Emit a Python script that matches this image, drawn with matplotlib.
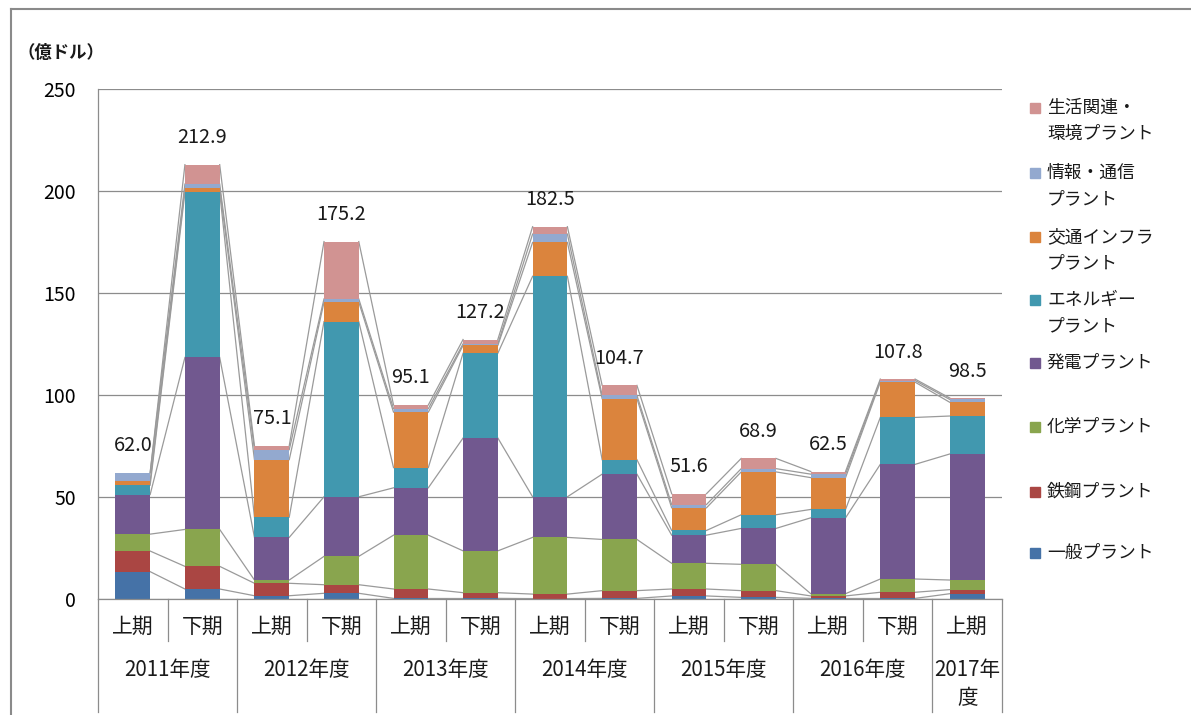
import matplotlib
matplotlib.use("Agg")
import matplotlib.pyplot as plt
import matplotlib.transforms as mtransforms
from matplotlib.lines import Line2D
from matplotlib.patches import Rectangle
import numpy as np

plt.rcParams["font.family"] = ["Noto Sans CJK JP", "DejaVu Sans"]

# data (億ドル), bottom series first
halves = ["上期", "下期"] * 6 + ["上期"]
years = ["2011年度", "2012年度", "2013年度", "2014年度", "2015年度", "2016年度"]
last_year = ["2017年", "度"]

series_names = ["一般プラント", "鉄鋼プラント", "化学プラント", "発電プラント",
                "エネルギー\nプラント", "交通インフラ\nプラント", "情報・通信\nプラント",
                "生活関連・\n環境プラント"]
ippan = [13.4, 4.9, 1.6, 2.8, 0.3, 0.3, 0.2, 0.3, 1.5, 0.8, 0.3, 0.3, 2.6]
tekko = [10.1, 11.1, 6.1, 4.2, 4.6, 2.8, 2.2, 3.8, 3.4, 3.3, 1.2, 3.0, 2.0]
kagaku = [8.3, 18.1, 1.6, 13.9, 26.4, 20.5, 27.8, 25.1, 12.6, 12.9, 1.1, 6.5, 4.7]
hatsuden = [19.4, 84.3, 20.9, 29.2, 23.2, 55.3, 19.9, 32.0, 13.8, 17.6, 37.2, 56.2, 61.8]
energy = [4.6, 80.9, 9.9, 85.9, 9.9, 41.6, 108.1, 7.1, 2.3, 6.7, 4.1, 23.0, 18.6]
kotsu = [1.9, 2.1, 28.2, 9.5, 27.2, 3.8, 16.6, 29.9, 11.1, 21.0, 15.6, 17.3, 6.7]
joho = [4.1, 2.0, 4.9, 1.6, 1.7, 0.8, 4.1, 1.6, 1.6, 1.6, 1.7, 0.8, 1.4]
seikatsu = [0.2, 9.5, 1.9, 28.1, 1.8, 2.1, 3.6, 4.9, 5.3, 5.0, 1.3, 0.7, 0.7]
totals = [62.0, 212.9, 75.1, 175.2, 95.1, 127.2, 182.5, 104.7, 51.6, 68.9, 62.5, 107.8, 98.5]

colors = ["#4572A7", "#AA4643", "#89A54E", "#71588F",
          "#4198AF", "#DB843D", "#93A9CF", "#D19392"]

W, H = 1191, 715
fig = plt.figure(figsize=(W / 100, H / 100), dpi=100)


def fx(px):
    return px / W


def fy(py):
    return 1 - py / H


ax = fig.add_axes([fx(98), fy(599), fx(1002) - fx(98), fy(89) - fy(599)])

data = [ippan, tekko, kagaku, hatsuden, energy, kotsu, joho, seikatsu]
x = np.arange(len(halves))
bw = 0.5
bottom = np.zeros(len(x))
tops = []
for vals, c in zip(data, colors):
    ax.bar(x, vals, bw, bottom=bottom, color=c, linewidth=0, zorder=3)
    bottom = bottom + np.array(vals)
    tops.append(bottom.copy())

# series lines between adjacent bars
for top in tops:
    for i in range(len(x) - 1):
        ax.plot([x[i] + bw / 2, x[i + 1] - bw / 2], [top[i], top[i + 1]],
                color="#9a9a9a", lw=0.9, zorder=2)

for xi, t in zip(x, totals):
    ax.annotate(f"{t:.1f}", (xi, t), xytext=(0, 27), textcoords="offset pixels",
                ha="center", va="center", fontsize=14.3, color="#1a1a1a")

ax.set_xlim(-0.5, len(x) - 0.5)
ax.set_ylim(0, 250)
ax.set_yticks(range(0, 251, 50))
ax.yaxis.grid(True, color="#8c8c8c", lw=0.9, zorder=0)
ax.tick_params(axis="y", length=0, labelsize=14, pad=16)
ax.tick_params(axis="x", length=0, labelbottom=False)
for s in ["top", "right", "bottom"]:
    ax.spines[s].set_visible(False)
ax.spines["left"].set_color("#8c8c8c")
ax.spines["left"].set_linewidth(0.9)
ax.set_xticks([])

# category axis (two levels) drawn below the plot
trans = mtransforms.blended_transform_factory(ax.transData, ax.transAxes)
y_short = -(641 - 599) / 511
y_long = -(712 - 599) / 511
ax.plot([-0.5, len(x) - 0.5], [0, 0], color="#8c8c8c", lw=0.9,
        transform=trans, clip_on=False, zorder=4)
for b in range(len(x) + 1):
    xb = b - 0.5
    yb = y_long if b % 2 == 0 or b == len(x) else y_short
    ax.plot([xb, xb], [0, yb], color="#8c8c8c", lw=0.9,
            transform=trans, clip_on=False)
for xi, lab in zip(x, halves):
    ax.text(xi, -(627 - 599) / 511, lab, transform=trans, ha="center",
            va="center", fontsize=15, color="#1a1a1a")
for k, lab in enumerate(years):
    ax.text(2 * k + 0.5, -(670 - 599) / 511, lab, transform=trans,
            ha="center", va="center", fontsize=14.8, color="#1a1a1a")
ax.text(12, -(670 - 599) / 511, last_year[0], transform=trans,
        ha="center", va="center", fontsize=14.8, color="#1a1a1a")
ax.text(12, -(698 - 599) / 511, last_year[1], transform=trans,
        ha="center", va="center", fontsize=14.8, color="#1a1a1a")

fig.text(fx(61), fy(53), "（億ドル）", ha="center", va="center",
         fontsize=12.5, fontweight="bold", color="#1a1a1a")

# legend, top entry first
legend_y = [108, 173, 237, 300, 363, 427, 492, 553]
for name, c, ly in zip(series_names[::-1], colors[::-1], legend_y):
    fig.patches.append(Rectangle((fx(1030), fy(ly + 5)), fx(10), 10 / H,
                                 transform=fig.transFigure, color=c))
    for j, line in enumerate(name.split("\n")):
        fig.text(fx(1047), fy(ly + 26 * j), line, ha="left", va="center",
                 fontsize=12.8, color="#1a1a1a")

# chart area border
fig.add_artist(Line2D([fx(10.5), fx(10.5)], [fy(8.5), 0], color="#8a8a8a", lw=1.5))
fig.add_artist(Line2D([fx(10.5), 1], [fy(8.5), fy(8.5)], color="#8a8a8a", lw=1.5))

fig.savefig("out.png", dpi=100)
